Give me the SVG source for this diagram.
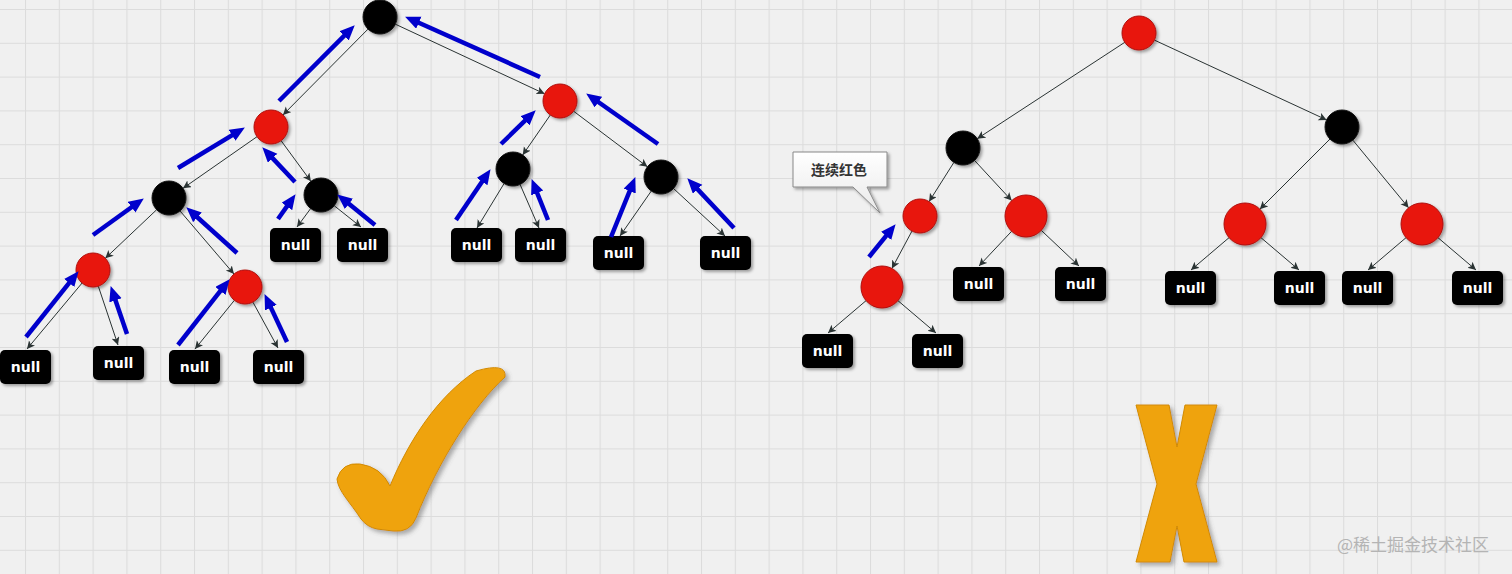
<svg xmlns="http://www.w3.org/2000/svg" width="1512" height="574" viewBox="0 0 1512 574">
<defs>
<pattern id="grid" patternUnits="userSpaceOnUse" x="25" y="9" width="33.8" height="33.8">
<path d="M0,0.5 H33.8 M0.5,0 V33.8" stroke="#dcdcdc" stroke-width="1.2" fill="none"/>
</pattern>
<filter id="sh" x="-30%" y="-30%" width="160%" height="160%">
<feDropShadow dx="2" dy="2" stdDeviation="1.5" flood-color="#000" flood-opacity="0.35"/>
</filter>
<filter id="sh2" x="-30%" y="-30%" width="160%" height="160%">
<feDropShadow dx="3" dy="3" stdDeviation="2" flood-color="#555" flood-opacity="0.45"/>
</filter>
<linearGradient id="callg" x1="0" y1="0" x2="0" y2="1">
<stop offset="0" stop-color="#ffffff"/>
<stop offset="1" stop-color="#e9e9e9"/>
</linearGradient>
<marker id="ta" markerUnits="userSpaceOnUse" markerWidth="10" markerHeight="10" refX="8" refY="4" orient="auto">
<path d="M0,0 L8,4 L0,8 L2,4 Z" fill="#2a3333"/>
</marker>
<marker id="ba" markerUnits="userSpaceOnUse" markerWidth="16" markerHeight="14" refX="8" refY="6.5" orient="auto">
<path d="M0,0 L15,6.5 L0,13 Z" fill="#0000cc"/>
</marker>
<style>
.red{fill:#e81608;stroke:#b0100a;stroke-width:1;filter:url(#sh)}
.blk{fill:#000;stroke:#111;stroke-width:1;filter:url(#sh)}
.nb{fill:#000;filter:url(#sh)}
.nt{fill:#fff;font-family:"DejaVu Sans",Verdana,sans-serif;font-weight:bold;font-size:14px;text-anchor:middle}
.ed line{stroke:#2a3333;stroke-width:1;marker-end:url(#ta)}
.bl line{stroke:#0000cc;stroke-width:4.5;marker-end:url(#ba)}
</style>
</defs>
<rect width="1512" height="574" fill="#f0f0f0"/>
<rect width="1512" height="574" fill="url(#grid)"/>

<g id="connectors" class="ed">
<line x1="368" y1="29.1" x2="283" y2="114.9"/>
<line x1="395.4" y1="24.2" x2="544.6" y2="93.8"/>
<line x1="257" y1="136.7" x2="183" y2="188.3"/>
<line x1="281.1" y1="140.7" x2="310.9" y2="181.3"/>
<line x1="156.7" y1="209.7" x2="105.3" y2="258.3"/>
<line x1="180" y1="210.9" x2="234" y2="274.1"/>
<line x1="82.1" y1="283" x2="27" y2="349"/>
<line x1="98.3" y1="286.2" x2="118" y2="345"/>
<line x1="234.4" y1="300.3" x2="195" y2="349"/>
<line x1="252.9" y1="302.1" x2="278" y2="348"/>
<line x1="310.7" y1="208.5" x2="297" y2="227"/>
<line x1="334.2" y1="205.7" x2="361" y2="227"/>
<line x1="550.3" y1="115" x2="522.7" y2="155"/>
<line x1="573.6" y1="111.2" x2="647.4" y2="166.8"/>
<line x1="504.1" y1="183.5" x2="477" y2="228"/>
<line x1="520.1" y1="184.5" x2="539" y2="228"/>
<line x1="651.3" y1="191" x2="620" y2="236"/>
<line x1="673.5" y1="188.5" x2="725" y2="236"/>
<line x1="1124.8" y1="42.3" x2="977.2" y2="138.7"/>
<line x1="1154.4" y1="40.1" x2="1326.6" y2="119.9"/>
<line x1="953.9" y1="162.4" x2="929.1" y2="201.6"/>
<line x1="974.6" y1="160.5" x2="1011.7" y2="200.6"/>
<line x1="912" y1="231" x2="891.9" y2="268.5"/>
<line x1="866" y1="300.7" x2="828" y2="333"/>
<line x1="898" y1="300.7" x2="936" y2="333"/>
<line x1="1011.6" y1="231.3" x2="979" y2="266"/>
<line x1="1041.3" y1="230.4" x2="1079" y2="266"/>
<line x1="1330" y1="139" x2="1259.8" y2="209.2"/>
<line x1="1352.8" y1="140.1" x2="1408.6" y2="207.8"/>
<line x1="1229" y1="237.7" x2="1191" y2="270"/>
<line x1="1261" y1="237.7" x2="1299" y2="270"/>
<line x1="1406" y1="237.7" x2="1368" y2="270"/>
<line x1="1438" y1="237.7" x2="1476" y2="270"/>
</g>

<g id="left-root"><circle class="blk" cx="380" cy="17" r="17"/></g>
<g id="left-A"><circle class="red" cx="271" cy="127" r="17"/></g>
<g id="left-B"><circle class="red" cx="560" cy="101" r="17"/></g>
<g id="left-C"><circle class="blk" cx="169" cy="198" r="17"/></g>
<g id="left-D"><circle class="blk" cx="321" cy="195" r="17"/></g>
<g id="left-E"><circle class="blk" cx="513" cy="169" r="17"/></g>
<g id="left-F"><circle class="blk" cx="661" cy="177" r="17"/></g>
<g id="left-G"><circle class="red" cx="93" cy="270" r="17"/></g>
<g id="left-H"><circle class="red" cx="245" cy="287" r="17"/></g>

<g id="null-1"><rect class="nb" x="0" y="350" width="51" height="34" rx="5"/><text class="nt" x="25.5" y="372">null</text></g>
<g id="null-2"><rect class="nb" x="93" y="346" width="51" height="34" rx="5"/><text class="nt" x="118.5" y="368">null</text></g>
<g id="null-3"><rect class="nb" x="169" y="350" width="51" height="34" rx="5"/><text class="nt" x="194.5" y="372">null</text></g>
<g id="null-4"><rect class="nb" x="253" y="350" width="51" height="34" rx="5"/><text class="nt" x="278.5" y="372">null</text></g>
<g id="null-5"><rect class="nb" x="270" y="228" width="51" height="34" rx="5"/><text class="nt" x="295.5" y="250">null</text></g>
<g id="null-6"><rect class="nb" x="337" y="228" width="51" height="34" rx="5"/><text class="nt" x="362.5" y="250">null</text></g>
<g id="null-7"><rect class="nb" x="451" y="228" width="51" height="34" rx="5"/><text class="nt" x="476.5" y="250">null</text></g>
<g id="null-8"><rect class="nb" x="515" y="228" width="51" height="34" rx="5"/><text class="nt" x="540.5" y="250">null</text></g>
<g id="null-9"><rect class="nb" x="593" y="236" width="51" height="34" rx="5"/><text class="nt" x="618.5" y="258">null</text></g>
<g id="null-10"><rect class="nb" x="700" y="236" width="51" height="34" rx="5"/><text class="nt" x="725.5" y="258">null</text></g>

<g id="right-root"><circle class="red" cx="1139" cy="33" r="17"/></g>
<g id="right-BL"><circle class="blk" cx="963" cy="148" r="17"/></g>
<g id="right-BR"><circle class="blk" cx="1342" cy="127" r="17"/></g>
<g id="right-Rs"><circle class="red" cx="920" cy="216" r="17"/></g>
<g id="right-Rb"><circle class="red" cx="882" cy="287" r="21"/></g>
<g id="right-Rm"><circle class="red" cx="1026" cy="216" r="21"/></g>
<g id="right-RL"><circle class="red" cx="1245" cy="224" r="21"/></g>
<g id="right-RR"><circle class="red" cx="1422" cy="224" r="21"/></g>

<g id="null-11"><rect class="nb" x="802" y="334" width="51" height="34" rx="5"/><text class="nt" x="827.5" y="356">null</text></g>
<g id="null-12"><rect class="nb" x="912" y="334" width="51" height="34" rx="5"/><text class="nt" x="937.5" y="356">null</text></g>
<g id="null-13"><rect class="nb" x="953" y="267" width="51" height="34" rx="5"/><text class="nt" x="978.5" y="289">null</text></g>
<g id="null-14"><rect class="nb" x="1055" y="267" width="51" height="34" rx="5"/><text class="nt" x="1080.5" y="289">null</text></g>
<g id="null-15"><rect class="nb" x="1165" y="271" width="51" height="34" rx="5"/><text class="nt" x="1190.5" y="293">null</text></g>
<g id="null-16"><rect class="nb" x="1274" y="271" width="51" height="34" rx="5"/><text class="nt" x="1299.5" y="293">null</text></g>
<g id="null-17"><rect class="nb" x="1342" y="271" width="51" height="34" rx="5"/><text class="nt" x="1367.5" y="293">null</text></g>
<g id="null-18"><rect class="nb" x="1452" y="271" width="51" height="34" rx="5"/><text class="nt" x="1477.5" y="293">null</text></g>

<g id="blue-arrows" class="bl">
<line x1="279" y1="101" x2="349.8" y2="30.2"/>
<line x1="540" y1="77" x2="411.5" y2="19.5"/>
<line x1="178" y1="168" x2="238.9" y2="131.1"/>
<line x1="295" y1="182" x2="267.1" y2="152.4"/>
<line x1="93" y1="235" x2="138.1" y2="202.5"/>
<line x1="237" y1="253" x2="191.5" y2="212"/>
<line x1="26" y1="337" x2="74.2" y2="276.7"/>
<line x1="127" y1="334" x2="112.9" y2="292.7"/>
<line x1="178" y1="345" x2="225.3" y2="284.7"/>
<line x1="287" y1="342" x2="267.5" y2="300.4"/>
<line x1="278" y1="219" x2="291.5" y2="199.9"/>
<line x1="375" y1="225" x2="342.7" y2="198.8"/>
<line x1="501" y1="144" x2="530.7" y2="115.2"/>
<line x1="658" y1="144" x2="591.9" y2="97.5"/>
<line x1="456" y1="220" x2="486.6" y2="175"/>
<line x1="548" y1="220" x2="534.2" y2="185.6"/>
<line x1="611" y1="237" x2="632.7" y2="183.6"/>
<line x1="734" y1="228" x2="692.1" y2="183.4"/>
<line x1="869" y1="257" x2="891.2" y2="229.7"/>
</g>

<g id="callout">
<path d="M793,152 H887 V187 H867 L880,213 L853,187 H793 Z" fill="url(#callg)" stroke="#888" stroke-width="1" filter="url(#sh)"/>
<text x="839" y="175" font-family="'Noto Sans CJK SC',sans-serif" font-size="14" font-weight="bold" fill="#333" text-anchor="middle">连续红色</text>
</g>

<g id="checkmark">
<path d="M476,371 Q507,362 505,377 C474,405 438,462 416,518 Q410,533 393,531 L377,529 Q367,527 361,519 C350,502 338,491 337,479 Q342,462 360,464 Q381,467 390,486 C409,440 438,396 476,371 Z" fill="#efa30f" stroke="#d28a00" stroke-width="1" filter="url(#sh2)"/>
</g>

<g id="cross">
<polygon points="1136,405 1169,405 1177,447 1185,405 1217,405 1196,484 1217,562 1184,562 1177,526 1170,562 1136,562 1157,484" fill="#efa30f" stroke="#d28a00" stroke-width="1" filter="url(#sh2)"/>
</g>

<text x="1413" y="551" font-family="'Noto Sans CJK SC',sans-serif" font-size="17" fill="#b4b4b4" text-anchor="middle">@稀土掘金技术社区</text>
</svg>
